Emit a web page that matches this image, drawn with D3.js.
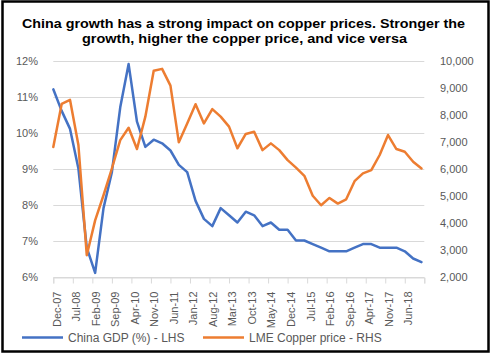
<!DOCTYPE html>
<html><head><meta charset="utf-8">
<script src="https://cdn.jsdelivr.net/npm/d3@7"></script>
<style>body{margin:0;background:#fff}svg{display:block}</style>
</head><body>
<script>
// Quarterly data, Dec-07 .. Dec-18
const quarters = ["Dec-07","Mar-08","Jun-08","Sep-08","Dec-08","Mar-09","Jun-09","Sep-09","Dec-09","Mar-10","Jun-10","Sep-10","Dec-10","Mar-11","Jun-11","Sep-11","Dec-11","Mar-12","Jun-12","Sep-12","Dec-12","Mar-13","Jun-13","Sep-13","Dec-13","Mar-14","Jun-14","Sep-14","Dec-14","Mar-15","Jun-15","Sep-15","Dec-15","Mar-16","Jun-16","Sep-16","Dec-16","Mar-17","Jun-17","Sep-17","Dec-17","Mar-18","Jun-18","Sep-18","Dec-18"];
const gdp = [11.2,10.6,10.1,9.0,6.8,6.1,7.9,8.9,10.7,11.9,10.3,9.6,9.8,9.7,9.5,9.1,8.9,8.1,7.6,7.4,7.9,7.7,7.5,7.8,7.7,7.4,7.5,7.3,7.3,7.0,7.0,6.9,6.8,6.7,6.7,6.7,6.8,6.9,6.9,6.8,6.8,6.8,6.7,6.5,6.4];
const copper = [6800,8390,8540,6870,2790,4080,5010,6000,7050,7510,6720,7920,9620,9690,9070,6970,7670,8380,7670,8200,7920,7550,6750,7280,7360,6680,6930,6680,6310,6030,5730,4990,4640,4910,4700,4860,5530,5820,5940,6500,7240,6720,6620,6250,6000];
const xLabels = ["Dec-07","Jul-08","Feb-09","Sep-09","Apr-10","Nov-10","Jun-11","Jan-12","Aug-12","Mar-13","Oct-13","May-14","Dec-14","Jul-15","Feb-16","Sep-16","Apr-17","Nov-17","Jun-18"];
const leftTicks = [6,7,8,9,10,11,12];
const rightTicks = [2000,3000,4000,5000,6000,7000,8000,9000,10000];
const seriesNames = ["China GDP (%) - LHS","LME Copper price - RHS"];
const titleLines = ["China growth has a strong impact on copper prices. Stronger the","growth, higher the copper price, and vice versa"];

const W = 491, H = 355;
const svg = d3.select("body").append("svg").attr("width", W).attr("height", H);
svg.append("rect").attr("x",0).attr("y",0).attr("width",W).attr("height",H).attr("fill","#fff");
svg.append("rect").attr("x",2.5).attr("y",1.5).attr("width",486).attr("height",350)
  .attr("fill","none").attr("stroke","#000").attr("stroke-width",2.5);

const font = "'Liberation Sans', Arial, sans-serif";
// title
svg.selectAll("text.title").data(titleLines).enter().append("text")
  .attr("class","title")
  .attr("x", (d,i)=> i===0 ? 22 : 82).attr("y",(d,i)=> i===0 ? 27.5 : 42.5)
  .attr("textLength",(d,i)=> i===0 ? 443 : 325).attr("lengthAdjust","spacingAndGlyphs")
  .attr("font-family",font).attr("font-weight","bold").attr("font-size",13)
  .attr("fill","#000").text(d=>d);

const x = d3.scaleLinear().domain([0,133]).range([53.3,424.3]);
const yL = d3.scaleLinear().domain([6,12]).range([276.5,60.5]);
const yR = d3.scaleLinear().domain([2000,10000]).range([276.5,60.5]);

// gridlines
svg.append("g").selectAll("line").data(leftTicks).enter().append("line")
  .attr("x1",x(0)).attr("x2",x(133)).attr("y1",d=>Math.round(yL(d))+0.5).attr("y2",d=>Math.round(yL(d))+0.5)
  .attr("stroke","#D9D9D9").attr("stroke-width",1);

// left axis
const gL = svg.append("g").attr("transform","translate(38,0)")
  .call(d3.axisLeft(yL).tickValues(leftTicks).tickSize(0).tickPadding(0).tickFormat(d=>d+"%"));
gL.select(".domain").remove();
gL.selectAll("text").attr("font-family",font).attr("font-size",11).attr("fill","#595959");

// right axis
const gR = svg.append("g").attr("transform","translate(440,0)")
  .call(d3.axisRight(yR).tickValues(rightTicks).tickSize(0).tickPadding(0).tickFormat(d3.format(",")));
gR.select(".domain").remove();
gR.selectAll("text").attr("font-family",font).attr("font-size",11).attr("fill","#595959");

// bottom axis
const tickMonths = d3.range(0,134,7);
const gB = svg.append("g").attr("transform","translate(0,"+(Math.round(yL(6))+0.5)+")")
  .call(d3.axisBottom(x).tickValues(tickMonths).tickSize(6).tickFormat((d,i)=> xLabels[i] || ""));
gB.select(".domain").attr("stroke","#D9D9D9");
gB.selectAll(".tick line").attr("stroke","#D9D9D9");
gB.selectAll("text").attr("font-family",font).attr("font-size",11).attr("fill","#595959")
  .attr("text-anchor","end").attr("transform","rotate(-90)").attr("x",-14).attr("y",3).attr("dy","0.35em");

// lines
const months = quarters.map((q,i)=> i*3);
const lineL = d3.line().x((d,i)=>x(months[i])).y(d=>yL(d));
const lineR = d3.line().x((d,i)=>x(months[i])).y(d=>yR(d));
svg.append("path").datum(gdp).attr("d",lineL).attr("fill","none").attr("stroke","#4472C4")
  .attr("stroke-width",2.5).attr("stroke-linejoin","round").attr("stroke-linecap","round");
svg.append("path").datum(copper).attr("d",lineR).attr("fill","none").attr("stroke","#ED7D31")
  .attr("stroke-width",2.5).attr("stroke-linejoin","round").attr("stroke-linecap","round");

// legend
const legColors = ["#4472C4","#ED7D31"];
const legX = [22, 203];
const lg = svg.append("g");
seriesNames.forEach((n,i)=>{
  lg.append("line").attr("x1",legX[i]).attr("x2",legX[i]+41).attr("y1",337.5).attr("y2",337.5)
    .attr("stroke",legColors[i]).attr("stroke-width",2.5);
  lg.append("text").attr("x",legX[i]+46).attr("y",337.5).attr("dy","0.35em")
    .attr("font-family",font).attr("font-size",12).attr("fill","#595959").text(n);
});
</script>
</body></html>
